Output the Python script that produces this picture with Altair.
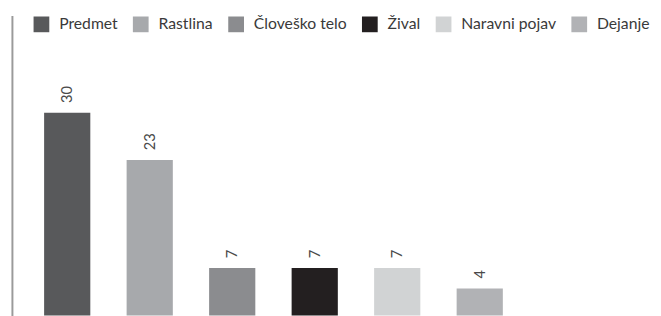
import altair as alt
import pandas as pd

categories = ["Predmet", "Rastlina", "Človeško telo", "Žival", "Naravni pojav", "Dejanje"]
values = [30, 23, 7, 7, 7, 4]
colors = ["#58595b", "#a7a9ac", "#8b8c8f", "#231f20", "#d1d3d4", "#b1b2b5"]

df = pd.DataFrame({"kategorija": categories, "vrednost": values})

x = alt.X("kategorija:N", sort=categories, axis=None,
          scale=alt.Scale(paddingInner=0.44, paddingOuter=0.39))
y = alt.Y("vrednost:Q",
          scale=alt.Scale(domain=[0, 44.4], nice=False, zero=True),
          axis=alt.Axis(title=None, labels=False, ticks=False, grid=False,
                        domain=True, domainColor="#9a9a9a", domainWidth=2))

bars = alt.Chart(df).mark_bar().encode(
    x=x,
    y=y,
    color=alt.Color("kategorija:N", sort=categories,
                    scale=alt.Scale(domain=categories, range=colors),
                    legend=alt.Legend(title=None, orient="none", direction="horizontal",
                                      legendX=22, legendY=1,
                                      symbolType="square", symbolSize=256,
                                      symbolStrokeWidth=0, labelOffset=10,
                                      columnPadding=15, labelFontSize=16,
                                      labelFont="Lato", labelColor="#3a3a3a",
                                      padding=0)),
)

labels = alt.Chart(df).mark_text(angle=270, align="left", baseline="middle",
                                 yOffset=-10, fontSize=15, font="Lato",
                                 color="#4a4a4a").encode(
    x=x,
    y=y,
    text="vrednost:Q",
)

chart = (bars + labels).properties(
    width=532,
    height=305,
    padding={"left": 4, "top": 5, "right": 120, "bottom": 0},
    autosize=alt.AutoSizeParams(type="none"),
).configure_view(stroke=None)

chart.save("out.html", embed_options={"renderer": "svg", "actions": False})
